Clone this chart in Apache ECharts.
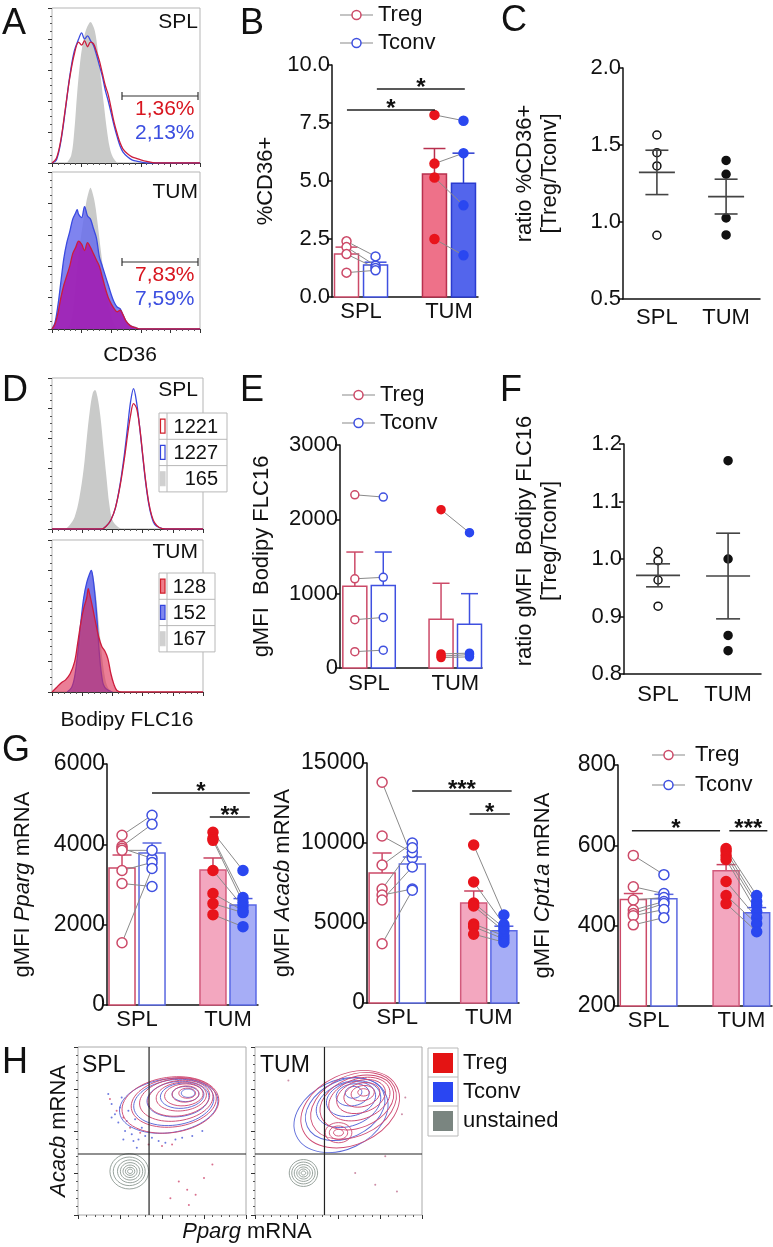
<!DOCTYPE html>
<html><head><meta charset="utf-8">
<script src="https://cdn.jsdelivr.net/npm/echarts@6/dist/echarts.min.js"></script>
<style>html,body{margin:0;padding:0;background:#fff}#c{width:773px;height:1247px}</style>
</head><body><div id="c"></div>
<script>
// ---------------- DATA ----------------
const groups = ['SPL', 'TUM'];

// Panel A histograms: [channel (display units 0-100), % of max]
const histA_SPL_unst  = [[10,0],[13,5],[15,20],[17,45],[19,65],[21,78],[23,86],[25,90],[26,91],[27,90],[29,85],[31,72],[33,55],[35,38],[37,22],[39,10],[41,4],[44,0]];
const histA_SPL_treg  = [[0,0],[3,3],[6,15],[9,35],[12,55],[15,70],[18,78],[20,76],[22,79],[24,75],[26,78],[28,77],[30,72],[32,66],[34,58],[36,50],[38,44],[40,35],[42,26],[44,19],[46,13],[48,9],[51,6],[54,4],[57,3],[60,2],[64,1],[70,0],[100,0]];
const histA_SPL_tconv = [[0,0],[3,2],[6,14],[9,34],[12,56],[15,72],[18,80],[20,84],[22,80],[24,82],[26,79],[28,76],[30,70],[32,63],[34,56],[36,47],[38,40],[40,32],[42,24],[44,17],[46,11],[48,7],[51,4],[54,2],[58,1],[64,0],[100,0]];
const histA_TUM_unst  = [[10,0],[13,5],[15,18],[17,38],[19,55],[21,68],[23,80],[25,88],[26,90],[27,88],[29,80],[31,66],[33,50],[35,35],[37,22],[39,12],[41,5],[44,0]];
const histA_TUM_tconv = [[0,0],[2,4],[4,15],[6,30],[8,45],[10,55],[12,62],[14,70],[16,74],[17,76],[18,73],[20,71],[22,78],[24,72],[26,70],[28,64],[30,58],[32,46],[34,40],[36,34],[38,28],[40,22],[42,17],[44,14],[46,13],[48,9],[50,5],[53,2],[56,1],[60,0],[100,0]];
const histA_TUM_treg  = [[0,0],[2,3],[4,10],[6,20],[8,28],[10,34],[12,40],[14,48],[16,52],[18,56],[20,54],[22,50],[24,55],[26,52],[28,48],[30,44],[32,40],[34,33],[36,26],[38,20],[40,16],[42,13],[44,11],[46,12],[48,9],[50,5],[53,2],[56,1],[60,0],[100,0]];
const gateA_SPL = ['1,36%', '2,13%'];
const gateA_TUM = ['7,83%', '7,59%'];

// Panel B: %CD36+
const bSplTreg  = [2.4, 2.15, 1.85, 1.05];
const bSplTconv = [1.75, 1.35, 1.25, 1.15];
const bTumTreg  = [7.85, 5.75, 5.15, 2.5];
const bTumTconv = [7.6, 6.2, 3.95, 1.8];
const bMeanTreg  = [1.85, 5.3];
const bMeanTconv = [1.38, 4.9];
const bErrTreg   = [2.15, 6.4];
const bErrTconv  = [1.5, 6.2];
const bSig = [[0.84, 1.84, 8.06, '*'], [1.18, 2.18, 8.97, '*']];

// Panel C: ratio %CD36+ [Treg/Tconv]
const cSpl = [1.565, 1.45, 1.364, 0.914];
const cTum = [1.40, 1.31, 1.026, 0.916];
const cMean = [1.322, 1.165];
const cSem  = [0.144, 0.113];

// Panel D histograms
const histD_SPL_unst  = [[9,0],[12,3],[15,8],[18,20],[21,40],[23,60],[25,78],[27,90],[28.5,92],[30,88],[32,75],[34,55],[36,35],[38,16],[40,6],[43,2],[46,0]];
const histD_SPL_treg  = [[0,0],[33,0],[36,2],[39,6],[42,14],[45,28],[48,47],[50,62],[52,75],[54,83],[56,80],[58,68],[60,50],[62,32],[64,18],[66,9],[68,4],[71,1],[75,0],[100,0]];
const histD_SPL_tconv = [[0,0],[33,0],[36,2],[39,6],[42,14],[45,29],[48,50],[50,67],[52,84],[54,93],[56,84],[58,68],[60,49],[62,31],[64,17],[66,8],[68,3],[71,1],[75,0],[100,0]];
const histD_TUM_unst  = [[12,0],[15,5],[17,15],[19,35],[21,55],[23,70],[25,78],[26,80],[27,78],[29,65],[31,45],[33,25],[35,10],[37,3],[40,0]];
const histD_TUM_tconv = [[10,0],[13,3],[15,10],[17,25],[19,45],[21,62],[23,72],[25,78],[26,80],[27,76],[28,68],[29,58],[30,45],[31,30],[32,18],[33,10],[34,5],[36,2],[40,0]];
const histD_TUM_treg  = [[0,0],[3,3],[6,6],[9,8],[12,12],[15,20],[17,32],[19,45],[21,55],[23,62],[24,68],[25,64],[27,55],[29,45],[31,36],[33,30],[35,27],[37,22],[39,12],[41,5],[43,1],[46,0],[100,0]];
const gmfiD_SPL = ['1221', '1227', '165'];
const gmfiD_TUM = ['128', '152', '167'];

// Panel E: gMFI Bodipy FLC16
const eSplTreg  = [2330, 1200, 650, 220];
const eSplTconv = [2300, 1220, 680, 240];
const eTumTreg  = [2130, 190, 160, 140];
const eTumTconv = [1820, 200, 180, 150];
const eMeanTreg  = [1100, 655];
const eMeanTconv = [1110, 590];
const eErrTreg   = [1560, 1140];
const eErrTconv  = [1560, 1000];

// Panel F: ratio gMFI Bodipy FLC16
const fSpl = [1.013, 0.997, 0.9635, 0.918];
const fTum = [1.171, 1.0, 0.867, 0.8405];
const fMean = [0.9716, 0.9704];
const fSem  = [0.0200, 0.0745];

// Panel G1: Pparg
const g1SplTreg  = [4225, 3950, 3900, 3850, 3350, 3025, 1550];
const g1SplTconv = [4725, 4500, 3650, 3850, 3550, 2950, 3400];
const g1TumTreg  = [4300, 4150, 4100, 3350, 2775, 2525, 2250];
const g1TumTconv = [3350, 2675, 2550, 2450, 2350, 2300, 1950];
const g1MeanTreg = [3411, 3361], g1MeanTconv = [3784, 2490];
const g1ErrTreg  = [3734, 3660], g1ErrTconv  = [4033, 2650];
const g1Sig = [[1.165, 2.24, 5278, '*'], [1.80, 2.24, 4680, '**']];
// Panel G2: Acacb
const g2SplTreg  = [13800, 10440, 8625, 7125, 6745, 6440, 3700];
const g2SplTconv = [9060, 9400, 10000, 9700, 7125, 8500, 7045];
const g2TumTreg  = [9875, 7560, 6250, 6060, 4940, 4765, 4300];
const g2TumTconv = [5500, 4900, 4700, 4500, 4200, 4000, 3800];
const g2MeanTreg = [8125, 6250], g2MeanTconv = [8690, 4514];
const g2ErrTreg  = [9375, 7000], g2ErrTconv  = [9125, 4800];
const g2Sig = [[1.163, 2.25, 13250, '***'], [1.79, 2.23, 11812, '*']];
// Panel G3: Cpt1a
const g3SplTreg  = [575, 497, 464, 439, 430, 425, 402];
const g3SplTconv = [527, 480, 470, 460, 455, 440, 420];
const g3TumTreg  = [592, 585, 575, 565, 510, 475, 455];
const g3TumTconv = [475, 460, 450, 435, 420, 405, 385];
const g3MeanTreg = [465, 537], g3MeanTconv = [467, 432];
const g3ErrTreg  = [480, 552], g3ErrTconv  = [478, 445];
const g3Sig = [[0.82, 1.77, 636, '*'], [1.87, 2.28, 636, '***']];

// Panel H: contour levels [centre x, centre y, radius x, radius y, tilt deg]
const hSplTreg  = [[55,65.5,29,16.5,8],[57,67,25.5,14.5,8],[58.5,68.5,22,12.5,8],[60,69.5,18.5,10.5,8],[61.5,70.5,15,8.5,6],[63,71.5,11.5,6.5,5],[64,72,8,4.8,4],[65,72.5,5,3,0]];
const hSplTconv = [[54,65,29.5,16,8],[57,67,24,13.5,8],[59.5,69,18.5,10.5,6],[62,71,13,7.5,5],[64,72,8,4.5,0],[65.5,72.5,4,2.5,0]];
const hSplUnst  = [[30.5,26,11.5,10.5,0],[30.5,26,9.5,8.5,0],[31,26,7.5,6.8,0],[31,26,5.8,5.2,0],[31,26,4.2,3.7,0],[31,26,2.8,2.4,0],[31,26,1.5,1.3,0]];
const hTumTreg  = [[57,63,31,21,25],[59,65,27,18,25],[61,67,23,15,22],[62.5,69,19,12,20],[63.5,70.5,15,9.5,18],[64,71.5,11,7,15],[64.5,72.5,7,4.5,10],[65,73,3.5,2.2,0],[50,49,8,6,0],[50,49,5.5,4,0],[50,49,3,2,0]];
const hTumTconv = [[51.5,59.5,29.5,20.5,25],[54,63,25,17,25],[56,66,20,13,20],[57.5,69,15,10,15],[58.5,71.5,10,6.5,10],[59,73,5,3.5,5]];
const hTumUnst  = [[29,25,8.5,8,0],[29,25,7,6.5,0],[29,25,5.5,5,0],[29,25,4,3.6,0],[29,25,2.7,2.4,0],[29,25,1.4,1.2,0]];
const hSplDotsTconv = [[18,72],[20,66],[22,60],[24,55],[26,70],[28,50],[30,62],[32,48],[34,57],[36,45],[38,52],[20,58],[25,64],[29,56],[33,44],[40,47],[44,46],[48,44],[52,43],[58,45],[62,46],[68,47],[74,50],[35,40],[27,45]];
const hSplDotsTreg  = [[19,69],[23,62],[27,58],[31,52],[37,49],[42,42],[50,41],[56,42],[60,20],[65,15],[70,12],[75,22],[55,10],[80,30],[66,6]];
const hTumDots      = [[60,25],[72,18],[85,14],[88,60],[90,70],[78,35],[20,80]];
const hQuadSpl = [[42.3, 36.3]];
const hQuadTum = [[41.6, 36.3]];

// ---------------- STYLE / LAYOUT ----------------
const FONT = '"Liberation Sans", Arial, Helvetica, sans-serif';
const INK = '#111';
const RED_O = '#cc4a68', BLUE_O = '#3f50e0';
const RED_F = '#e8141c', BLUE_F = '#2a47f0';
const PAIR = '#8a8a8a';
const XT1 = 0.835, XC1 = 1.165, XT2 = 1.835, XC2 = 2.165;

const option = { animation: false, backgroundColor: '#fff', textStyle: { fontFamily: FONT },
  grid: [], xAxis: [], yAxis: [], series: [], graphic: [] };

function addGrid(rect, xa, ya, gridExtra) {
  const i = option.grid.length;
  option.grid.push(Object.assign({ outerBoundsMode: 'none', containLabel: false, show: false }, rect, gridExtra || {}));
  xa.gridIndex = i; ya.gridIndex = i;
  option.xAxis.push(xa); option.yAxis.push(ya);
  return i;
}
function catX(min, max, fs, margin) {
  return { type: 'value', min, max,
    axisLine: { show: true, lineStyle: { color: INK, width: 1.5 } },
    axisTick: { show: false }, splitLine: { show: false },
    axisLabel: { customValues: [1, 2], formatter: v => groups[Math.round(v) - 1] || '', fontSize: fs, color: INK, margin, fontFamily: FONT } };
}
function nameStyle(fs, pad) {
  const s = { fontSize: fs, color: INK, fontFamily: FONT, lineHeight: fs + 3,
    rich: { n: { fontSize: fs, fontFamily: FONT, color: INK }, i: { fontSize: fs, fontFamily: FONT, color: INK, fontStyle: 'italic' } } };
  if (pad) s.padding = pad;
  return s;
}
function valY(min, max, interval, fmt, name, gap, fs, pad) {
  return { type: 'value', min, max, interval,
    axisLine: { show: true, lineStyle: { color: INK, width: 1.5 } },
    axisTick: { show: true, length: 5, lineStyle: { color: INK, width: 1.5 } },
    splitLine: { show: false },
    axisLabel: { fontSize: fs, color: INK, margin: 2, formatter: fmt, fontFamily: FONT },
    name, nameLocation: 'middle', nameGap: gap, nameRotate: 90, nameTextStyle: nameStyle(22, pad) };
}
function addBars(gi, ymin, data, styles, w, cap) {
  option.series.push({ type: 'custom', xAxisIndex: gi, yAxisIndex: gi, clip: false, z: 2, silent: true,
    data, encode: { x: 0, y: 1 },
    renderItem: (p, api) => {
      const s = styles[p.dataIndex];
      const x = api.value(0), v = api.value(1), e = api.value(2);
      const t = api.coord([x, v]), b = api.coord([x, ymin]), et = api.coord([x, e]);
      const ch = [];
      if (e > v) {
        ch.push({ type: 'line', shape: { x1: t[0], y1: t[1], x2: t[0], y2: et[1] }, style: { stroke: s.err, lineWidth: 1.5 } });
        ch.push({ type: 'line', shape: { x1: t[0] - cap, y1: et[1], x2: t[0] + cap, y2: et[1] }, style: { stroke: s.err, lineWidth: 1.5 } });
      }
      ch.push({ type: 'rect', shape: { x: t[0] - w / 2, y: t[1], width: w, height: b[1] - t[1] }, style: { fill: s.fill, stroke: s.stroke, lineWidth: 1.5 } });
      return { type: 'group', children: ch };
    } });
}
function addPairs(gi, data) {
  option.series.push({ type: 'custom', xAxisIndex: gi, yAxisIndex: gi, clip: false, z: 3, silent: true,
    data, encode: { x: [0, 2], y: [1, 3] },
    renderItem: (p, api) => {
      const a = api.coord([api.value(0), api.value(1)]), b = api.coord([api.value(2), api.value(3)]);
      return { type: 'line', shape: { x1: a[0], y1: a[1], x2: b[0], y2: b[1] }, style: { stroke: PAIR, lineWidth: 1 } };
    } });
}
function pairData(x1, a, x2, b) { return a.map((v, i) => [x1, v, x2, b[i]]); }
function addPoints(gi, x, vals, fill, stroke, size) {
  option.series.push({ type: 'scatter', xAxisIndex: gi, yAxisIndex: gi, z: 4, silent: true, clip: false,
    symbolSize: size, data: vals.map(v => [x, v]),
    itemStyle: { color: fill, borderColor: stroke, borderWidth: 1.5, opacity: 1 } });
}
function addSig(gi, sig) {
  const labels = sig.map(s => s[3]);
  option.series.push({ type: 'custom', xAxisIndex: gi, yAxisIndex: gi, clip: false, z: 5, silent: true,
    data: sig.map(s => [s[0], s[1], s[2]]), encode: { x: [0, 1], y: 2 },
    renderItem: (p, api) => {
      const a = api.coord([api.value(0), api.value(2)]), b = api.coord([api.value(1), api.value(2)]);
      return { type: 'group', children: [
        { type: 'line', shape: { x1: a[0], y1: a[1], x2: b[0], y2: b[1] }, style: { stroke: '#222', lineWidth: 1.5 } },
        { type: 'text', style: { text: labels[p.dataIndex], x: (a[0] + b[0]) / 2, y: a[1] - 13, font: `bold 24px ${FONT}`, fill: INK,
          align: 'center', verticalAlign: 'top', textAlign: 'center', textVerticalAlign: 'top' } }
      ] };
    } });
}
function addMeanSem(gi, data, halfMean, halfCap) {
  option.series.push({ type: 'custom', xAxisIndex: gi, yAxisIndex: gi, clip: false, z: 5, silent: true,
    data, encode: { x: 0, y: 1 },
    renderItem: (p, api) => {
      const x = api.value(0), m = api.value(1), s = api.value(2);
      const pm = api.coord([x, m]), pt = api.coord([x, m + s]), pb = api.coord([x, m - s]);
      const st = { stroke: '#444', lineWidth: 1.6 };
      return { type: 'group', children: [
        { type: 'line', shape: { x1: pm[0] - halfMean, y1: pm[1], x2: pm[0] + halfMean, y2: pm[1] }, style: st },
        { type: 'line', shape: { x1: pm[0], y1: pt[1], x2: pm[0], y2: pb[1] }, style: st },
        { type: 'line', shape: { x1: pm[0] - halfCap, y1: pt[1], x2: pm[0] + halfCap, y2: pt[1] }, style: st },
        { type: 'line', shape: { x1: pm[0] - halfCap, y1: pb[1], x2: pm[0] + halfCap, y2: pb[1] }, style: st }
      ] };
    } });
}
function histAxes() {
  return [
    { type: 'value', min: 0, max: 100, interval: 20,
      axisLine: { show: true, lineStyle: { color: '#333', width: 1 } },
      axisTick: { show: true, length: 4, lineStyle: { color: '#333' } },
      minorTick: { show: true, splitNumber: 5, length: 2, lineStyle: { color: '#555' } },
      axisLabel: { show: false }, splitLine: { show: false }, minorSplitLine: { show: false } },
    { type: 'value', min: 0, max: 100, interval: 20,
      axisLine: { show: false },
      axisTick: { show: true, length: 4, lineStyle: { color: '#333' } },
      minorTick: { show: true, splitNumber: 4, length: 2, lineStyle: { color: '#555' } },
      axisLabel: { show: false }, splitLine: { show: false }, minorSplitLine: { show: false } }
  ];
}
function addHist(gi, data, line, area, z) {
  const s = { type: 'line', xAxisIndex: gi, yAxisIndex: gi, data, smooth: 0.35, symbol: 'none', z, silent: true,
    lineStyle: line ? { color: line, width: 1.3 } : { width: 0, opacity: 0 } };
  if (area) s.areaStyle = { color: area, opacity: 1 };
  option.series.push(s);
}
function addContours(gi, data, color) {
  option.series.push({ type: 'custom', xAxisIndex: gi, yAxisIndex: gi, clip: true, z: 3, silent: true,
    data, encode: { x: 0, y: 1 },
    renderItem: (p, api) => {
      const c = api.coord([api.value(0), api.value(1)]);
      const s = api.size([api.value(2), api.value(3)]);
      return { type: 'ellipse', x: c[0], y: c[1], rotation: api.value(4) * Math.PI / 180,
        shape: { cx: 0, cy: 0, rx: s[0], ry: s[1] }, style: { fill: 'none', stroke: color, lineWidth: 0.9 } };
    } });
}
function addQuad(gi, data) {
  option.series.push({ type: 'custom', xAxisIndex: gi, yAxisIndex: gi, clip: false, z: 6, silent: true,
    data, encode: { x: 0, y: 1 },
    renderItem: (p, api) => {
      const c = api.coord([api.value(0), api.value(1)]);
      const cs = p.coordSys;
      return { type: 'group', children: [
        { type: 'line', shape: { x1: c[0], y1: cs.y, x2: c[0], y2: cs.y + cs.height }, style: { stroke: '#222', lineWidth: 1.2 } },
        { type: 'line', shape: { x1: cs.x, y1: c[1], x2: cs.x + cs.width, y2: c[1] }, style: { stroke: '#222', lineWidth: 1.2 } }
      ] };
    } });
}
function addDots(gi, data, color) {
  option.series.push({ type: 'scatter', xAxisIndex: gi, yAxisIndex: gi, z: 2, silent: true, symbolSize: 2,
    data, itemStyle: { color, opacity: 0.8 } });
}
// graphic helpers
function txt(x, y, text, size, o) {
  o = o || {};
  const st = { text, font: `${o.italic ? 'italic ' : ''}${o.bold ? 'bold ' : ''}${size}px ${FONT}`, fill: o.color || INK,
    align: o.align || 'left', verticalAlign: o.va || 'middle', textAlign: o.align || 'left', textVerticalAlign: o.va || 'middle' };
  if (o.rich) st.rich = o.rich;
  option.graphic.push({ type: 'text', x, y, z: 100, silent: true, style: st });
}
function gline(x1, y1, x2, y2, color, w) {
  option.graphic.push({ type: 'line', z: 100, silent: true, shape: { x1, y1, x2, y2 }, style: { stroke: color, lineWidth: w || 1.2 } });
}
function grect(x, y, w, h, fill, stroke, lw) {
  option.graphic.push({ type: 'rect', z: 99, silent: true, shape: { x, y, width: w, height: h }, style: { fill, stroke, lineWidth: lw || 1 } });
}
function gcircle(cx, cy, r, fill, stroke) {
  option.graphic.push({ type: 'circle', z: 101, silent: true, shape: { cx, cy, r }, style: { fill, stroke, lineWidth: 1.5 } });
}
function legendRows(x0, y0, dy, textX, fs) {
  [['Treg', RED_O], ['Tconv', BLUE_O]].forEach((r, i) => {
    const y = y0 + i * dy;
    gline(x0, y, x0 + 33, y, PAIR, 1.2);
    gcircle(x0 + 16.5, y, 4.5, '#fff', r[1]);
    txt(textX, y, r[0], fs);
  });
}

// ---------------- PANEL A ----------------
const boxStyle = { show: true, borderColor: '#b5b5b5', borderWidth: 1, backgroundColor: 'transparent' };
let ax = histAxes();
let gA1 = addGrid({ left: 52, top: 8, width: 148, height: 155 }, ax[0], ax[1], boxStyle);
addHist(gA1, histA_SPL_unst, null, '#c9cac9', 1);
addHist(gA1, histA_SPL_tconv, '#3a4ae0', null, 2);
addHist(gA1, histA_SPL_treg, '#cc1c3c', null, 3);
ax = histAxes();
let gA2 = addGrid({ left: 52, top: 172, width: 148, height: 157 }, ax[0], ax[1], boxStyle);
addHist(gA2, histA_TUM_unst, null, '#c9cac9', 1);
addHist(gA2, histA_TUM_tconv, '#3a4ae0', 'rgba(105,110,236,0.85)', 2);
addHist(gA2, histA_TUM_treg, '#cc1c3c', 'rgba(165,25,175,0.85)', 3);

txt(2, 24, 'A', 36);
txt(198, 22, 'SPL', 21, { align: 'right' });
gline(122, 96, 198, 96, '#333', 1.2); gline(122, 92, 122, 100, '#333', 1.2); gline(198, 92, 198, 100, '#333', 1.2);
txt(135, 109, gateA_SPL[0], 21, { color: '#d8151f' });
txt(135, 133, gateA_SPL[1], 21, { color: '#3b4ee0' });
txt(198, 192, 'TUM', 21, { align: 'right' });
gline(122, 262, 198, 262, '#333', 1.2); gline(122, 258, 122, 266, '#333', 1.2); gline(198, 258, 198, 266, '#333', 1.2);
txt(135, 275, gateA_TUM[0], 21, { color: '#d8151f' });
txt(135, 299, gateA_TUM[1], 21, { color: '#3b4ee0' });
txt(130, 355, 'CD36', 21, { align: 'center' });

// ---------------- PANEL B ----------------
let gB = addGrid({ left: 332, top: 65, width: 146, height: 232 }, catX(0.67, 2.33, 22, 4),
  valY(0, 10, 2.5, v => v.toFixed(1), '%CD36+', 54, 22));
addBars(gB, 0, [[XT1, bMeanTreg[0], bErrTreg[0]], [XC1, bMeanTconv[0], bErrTconv[0]], [XT2, bMeanTreg[1], bErrTreg[1]], [XC2, bMeanTconv[1], bErrTconv[1]]],
  [{ fill: '#fff', stroke: RED_O, err: RED_O }, { fill: '#fff', stroke: BLUE_O, err: BLUE_O },
   { fill: '#ee7189', stroke: '#b8304e', err: '#b8304e' }, { fill: '#5365ec', stroke: '#2a3bd0', err: '#2a3bd0' }], 24, 11);
addPairs(gB, pairData(XT1, bSplTreg, XC1, bSplTconv).concat(pairData(XT2, bTumTreg, XC2, bTumTconv)));
addPoints(gB, XT1, bSplTreg, '#fff', RED_O, 9);
addPoints(gB, XC1, bSplTconv, '#fff', BLUE_O, 9);
addPoints(gB, XT2, bTumTreg, RED_F, RED_F, 9);
addPoints(gB, XC2, bTumTconv, BLUE_F, BLUE_F, 9);
addSig(gB, bSig);
txt(240, 24, 'B', 36);
legendRows(340, 15, 28, 378, 22);

// ---------------- PANEL C ----------------
let gC = addGrid({ left: 623, top: 68, width: 137, height: 231 }, catX(0.51, 2.49, 22, 8),
  valY(0.5, 2, 0.5, v => v.toFixed(1), 'ratio %CD36+\n[Treg/Tconv]', 61, 22, [0, 0, 0, 20]));
addPoints(gC, 1, cSpl, '#fff', '#111', 8);
addPoints(gC, 2, cTum, '#111', '#111', 8);
addMeanSem(gC, [[1, cMean[0], cSem[0]], [2, cMean[1], cSem[1]]], 18, 11.5);
txt(501, 21, 'C', 36);

// ---------------- PANEL D ----------------
ax = histAxes();
let gD1 = addGrid({ left: 52, top: 378, width: 151, height: 151 }, ax[0], ax[1], boxStyle);
addHist(gD1, histD_SPL_unst, null, '#c9cac9', 1);
addHist(gD1, histD_SPL_tconv, '#3a4ae0', null, 2);
addHist(gD1, histD_SPL_treg, '#cc1c3c', null, 3);
ax = histAxes();
let gD2 = addGrid({ left: 52, top: 540, width: 151, height: 152 }, ax[0], ax[1], boxStyle);
addHist(gD2, histD_TUM_unst, null, '#c9cac9', 1);
addHist(gD2, histD_TUM_tconv, '#3a4ae0', 'rgba(105,110,236,0.9)', 2);
addHist(gD2, histD_TUM_treg, '#cc1c3c', 'rgba(222,40,80,0.6)', 3);
txt(2, 391, 'D', 36);
txt(198, 390, 'SPL', 21, { align: 'right' });
txt(198, 552, 'TUM', 21, { align: 'right' });
// gMFI tables
function gmfiTable(top, rowH, right, numRight, vals, swatches) {
  grect(159, top, right - 159, rowH * 3, '#fff', '#b8b8b8', 1);
  gline(167, top, 167, top + rowH * 3, '#b8b8b8', 1);
  for (let i = 1; i < 3; i++) gline(159, top + rowH * i, right, top + rowH * i, '#b8b8b8', 1);
  vals.forEach((v, i) => {
    const cy = top + rowH * i + rowH / 2;
    option.graphic.push({ type: 'rect', z: 101, silent: true, shape: { x: 160.5, y: cy - 7, width: 4.5, height: 14 }, style: { fill: swatches[i][0], stroke: swatches[i][1], lineWidth: 1.2 } });
    txt(numRight, cy + 1, v, 20, { align: 'right' });
  });
}
gmfiTable(413, 26.3, 227, 218, gmfiD_SPL, [['#fff', '#d0202c'], ['#fff', '#3344dd'], ['#d0d0d0', '#d0d0d0']]);
gmfiTable(573, 26.3, 215, 206, gmfiD_TUM, [['#ef7d8a', '#d0202c'], ['#8088ee', '#3344dd'], ['#d0d0d0', '#d0d0d0']]);
txt(127, 720, 'Bodipy FLC16', 21, { align: 'center' });

// ---------------- PANEL E ----------------
let gE = addGrid({ left: 340, top: 445, width: 142, height: 223 }, catX(0.663, 2.31, 22, 5),
  valY(0, 3000, 1000, v => String(v), 'gMFI  Bodipy FLC16', 66, 22));
addBars(gE, 0, [[XT1, eMeanTreg[0], eErrTreg[0]], [XC1, eMeanTconv[0], eErrTconv[0]], [XT2, eMeanTreg[1], eErrTreg[1]], [XC2, eMeanTconv[1], eErrTconv[1]]],
  [{ fill: '#fff', stroke: RED_O, err: RED_O }, { fill: '#fff', stroke: BLUE_O, err: BLUE_O },
   { fill: '#fff', stroke: RED_O, err: RED_O }, { fill: '#fff', stroke: BLUE_O, err: BLUE_O }], 24, 8.5);
addPairs(gE, pairData(XT1, eSplTreg, XC1, eSplTconv).concat(pairData(XT2, eTumTreg, XC2, eTumTconv)));
addPoints(gE, XT1, eSplTreg, '#fff', RED_O, 8);
addPoints(gE, XC1, eSplTconv, '#fff', BLUE_O, 8);
addPoints(gE, XT2, eTumTreg, RED_F, RED_F, 8);
addPoints(gE, XC2, eTumTconv, BLUE_F, BLUE_F, 8);
txt(240, 391, 'E', 36);
legendRows(342, 395, 28, 380, 22);

// ---------------- PANEL F ----------------
let gF = addGrid({ left: 624, top: 444, width: 137, height: 230 }, catX(0.514, 2.47, 22, 10),
  valY(0.8, 1.2, 0.1, v => v.toFixed(1), 'ratio gMFI  Bodipy FLC16\n[Treg/Tconv]', 62, 22, [0, 0, 0, 36]));
addPoints(gF, 1, fSpl, '#fff', '#111', 8);
addPoints(gF, 2, fTum, '#111', '#111', 8);
addMeanSem(gF, [[1, fMean[0], fSem[0]], [2, fMean[1], fSem[1]]], 22, 12);
txt(500, 391, 'F', 36);

// ---------------- PANEL G ----------------
function gPanel(rect, ymin, ymax, interval, name, gap, sT, sC, tT, tC, mT, mC, eT, eC, sig) {
  const gi = addGrid(rect, catX(0.67, 2.33, 22, 4), valY(ymin, ymax, interval, v => String(v), name, gap, 23));
  addBars(gi, ymin, [[XT1, mT[0], eT[0]], [XC1, mC[0], eC[0]], [XT2, mT[1], eT[1]], [XC2, mC[1], eC[1]]],
    [{ fill: '#fff', stroke: RED_O, err: RED_O }, { fill: '#fff', stroke: '#5a68e0', err: '#5a68e0' },
     { fill: '#f3a7bf', stroke: '#d25a7c', err: '#c8405e' }, { fill: '#a6adf6', stroke: '#5a68e6', err: '#4a58e0' }], 26, 9.5);
  addPairs(gi, pairData(XT1, sT, XC1, sC).concat(pairData(XT2, tT, XC2, tC)));
  addPoints(gi, XT1, sT, '#fff', RED_O, 10);
  addPoints(gi, XC1, sC, '#fff', BLUE_O, 10);
  addPoints(gi, XT2, tT, RED_F, RED_F, 10);
  addPoints(gi, XC2, tC, BLUE_F, BLUE_F, 10);
  addSig(gi, sig);
}
gPanel({ left: 107, top: 764, width: 151, height: 241 }, 0, 6000, 2000, '{n|gMFI }{i|Pparg}{n| mRNA}', 72,
  g1SplTreg, g1SplTconv, g1TumTreg, g1TumTconv, g1MeanTreg, g1MeanTconv, g1ErrTreg, g1ErrTconv, g1Sig);
gPanel({ left: 367, top: 763, width: 152, height: 240 }, 0, 15000, 5000, '{n|gMFI }{i|Acacb}{n| mRNA}', 72,
  g2SplTreg, g2SplTconv, g2TumTreg, g2TumTconv, g2MeanTreg, g2MeanTconv, g2ErrTreg, g2ErrTconv, g2Sig);
gPanel({ left: 618, top: 765, width: 154, height: 241 }, 200, 800, 200, '{n|gMFI }{i|Cpt1a}{n| mRNA}', 63,
  g3SplTreg, g3SplTconv, g3TumTreg, g3TumTconv, g3MeanTreg, g3MeanTconv, g3ErrTreg, g3ErrTconv, g3Sig);
txt(2, 751, 'G', 36);
legendRows(652, 755, 30, 695, 22);

// ---------------- PANEL H ----------------
function hAxes(withName) {
  const y = { type: 'value', min: 0, max: 100, interval: 25,
    axisLine: { show: false }, axisTick: { show: true, length: 4, lineStyle: { color: '#333' } },
    minorTick: { show: true, splitNumber: 5, length: 2, lineStyle: { color: '#555' } },
    axisLabel: { show: false }, splitLine: { show: false } };
  if (withName) Object.assign(y, { name: '{i|Acacb}{n| mRNA}', nameLocation: 'middle', nameGap: 7, nameRotate: 90, nameTextStyle: nameStyle(22) });
  return [{ type: 'value', min: 0, max: 100, interval: 25,
    axisLine: { show: false }, axisTick: { show: true, length: 4, lineStyle: { color: '#333' } },
    minorTick: { show: true, splitNumber: 5, length: 2, lineStyle: { color: '#555' } },
    axisLabel: { show: false }, splitLine: { show: false } }, y];
}
const hBox = { show: true, borderColor: '#aaaaaa', borderWidth: 1, backgroundColor: 'transparent' };
ax = hAxes(true);
let gH1 = addGrid({ left: 78, top: 1047, width: 168, height: 168 }, ax[0], ax[1], hBox);
addDots(gH1, hSplDotsTconv, '#4a5ad8');
addDots(gH1, hSplDotsTreg, '#d04a70');
addContours(gH1, hSplUnst, '#8c9892');
addContours(gH1, hSplTconv, '#5a68d8');
addContours(gH1, hSplTreg, '#cf4a72');
addQuad(gH1, hQuadSpl);
ax = hAxes(false);
let gH2 = addGrid({ left: 255, top: 1047, width: 167, height: 168 }, ax[0], ax[1], hBox);
addDots(gH2, hTumDots, '#c07090');
addContours(gH2, hTumUnst, '#8c9892');
addContours(gH2, hTumTconv, '#5a68d8');
addContours(gH2, hTumTreg, '#cf4a72');
addQuad(gH2, hQuadTum);
txt(2, 1063, 'H', 36);
txt(82, 1066, 'SPL', 23);
txt(260, 1066, 'TUM', 23);
txt(247, 1232, '{i|Pparg}{n| mRNA}', 22, { align: 'center', rich: nameStyle(22).rich });
// H legend
grect(428, 1048, 30, 88, '#fff', '#b8b8b8', 1);
gline(428, 1077, 458, 1077, '#b8b8b8', 1); gline(428, 1106, 458, 1106, '#b8b8b8', 1);
[['Treg', '#e41414'], ['Tconv', '#2a46f2'], ['unstained', '#7a8580']].forEach((r, i) => {
  const cy = 1063 + i * 29;
  option.graphic.push({ type: 'rect', z: 101, silent: true, shape: { x: 433, y: cy - 10, width: 20, height: 20 }, style: { fill: r[1], stroke: null } });
  txt(463, cy, r[0], 22);
});

const chart = echarts.init(document.getElementById('c'), null, { renderer: 'canvas', width: 773, height: 1247 });
chart.setOption(option);
</script></body></html>
